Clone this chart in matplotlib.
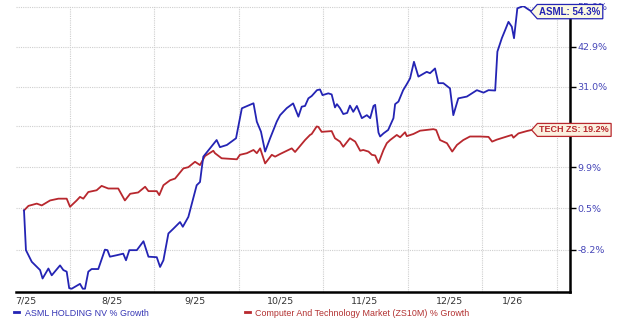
import numpy as np
import matplotlib
matplotlib.use("Agg")
import matplotlib.pyplot as plt
from matplotlib.path import Path

# ---------------- data (days since start, % growth) ----------------
asml_day = [0, 0.7, 2.8, 5.8, 6.7, 8.8, 10.0, 13.0, 14.2, 15.4, 16.3, 17.2, 20.2, 21.2, 22.0,
            23.2, 24.4, 26.8, 29.2, 30.1, 31.0, 33.5, 35.8, 36.8, 38.0, 40.7, 43.1, 44.9,
            47.9, 49.1, 50.3, 52.1, 53.9, 56.3, 57.3, 59.3, 62.3, 63.5, 64.1, 64.7, 67.1,
            69.5, 70.7, 73.2, 76.5, 78.6, 82.8, 84.0, 85.5, 87.0, 88.8, 90.0, 91.2, 92.4,
            94.8, 97.1, 99.0, 100.2, 101.4, 102.6, 103.8, 105.7, 106.8, 107.7, 109.8, 111.0,
            112.2, 112.9, 114.0, 115.2, 116.6, 117.6, 118.8, 120.1, 121.9, 123.7, 124.9,
            126.1, 126.7, 127.9, 128.5, 129.7, 131.4, 133.3, 133.9, 135.1, 136.8, 138.1,
            139.3, 140.7, 142.3, 145.3, 146.5, 148.3, 149.5, 151.3, 153.7, 154.9, 156.7,
            159.8, 163.4, 165.8, 167.6, 170.0, 170.8, 172.4, 173.6, 174.8, 176.0, 176.8,
            178.0, 180.2, 181.4, 183.2]
asml_pct = [0.0, -8.3, -10.6, -12.2, -13.8, -11.9, -13.2, -11.3, -12.2, -12.5, -15.6, -15.7,
            -14.8, -15.7, -15.7, -12.5, -12.0, -12.0, -8.2, -8.3, -9.6, -9.3, -9.0, -10.3,
            -8.3, -8.3, -6.5, -9.6, -9.7, -11.6, -10.3, -4.9, -3.9, -2.5, -3.5, -1.4, 5.65,
            6.4, 9.5, 12.45, 14.5, 16.6, 14.8, 15.35, 17.05, 24.96, 26.33, 21.36, 18.74,
            13.7, 17.05, 19.2, 21.4, 23.1, 25.0, 26.3, 22.7, 25.4, 25.6, 27.7, 28.35, 30.0,
            30.2, 28.6, 29.1, 28.8, 25.2, 26.1, 25.0, 23.4, 23.7, 25.7, 24.0, 25.6, 22.3,
            23.1, 22.3, 25.6, 25.9, 18.5, 17.5, 18.3, 19.2, 22.3, 26.1, 26.8, 30.0, 31.7,
            33.4, 38.3, 33.9, 35.3, 34.9, 36.3, 32.0, 32.0, 30.5, 23.1, 27.7, 28.2, 30.0,
            29.3, 30.0, 29.9, 41.4, 45.6, 48.2, 50.9, 49.3, 45.6, 55.4, 56.2, 55.4, 54.3]

tech_day = [0, 1.6, 4.6, 6.4, 9.4, 12.4, 15.4, 16.6, 19.0, 20.2, 21.4, 23.2, 26.2, 28.0, 30.4,
            34.0, 36.4, 38.3, 41.2, 43.7, 44.9, 47.9, 48.8, 50.3, 52.7, 54.5, 57.5, 59.3,
            61.7, 63.5, 65.3, 68.3, 68.9, 71.3, 76.8, 77.9, 80.4, 81.6, 82.8, 84.0, 85.2,
            87.0, 89.4, 90.6, 92.4, 96.6, 97.8, 101.4, 103.2, 103.8, 105.6, 106.2, 107.4,
            111.0, 112.2, 114.0, 115.2, 117.6, 119.5, 121.3, 122.4, 124.3, 125.5, 126.7,
            127.9, 129.7, 130.9, 132.1, 134.5, 135.7, 137.5, 138.1, 140.5, 142.9, 145.3,
            147.7, 148.7, 150.1, 152.6, 154.5, 156.2, 158.5, 160.9, 164.6, 167.6, 168.9,
            170.6, 174.2, 176.0, 176.6, 178.4, 181.4, 183.2]
tech_pct = [0.0, 1.0, 1.5, 1.1, 2.2, 2.6, 2.6, 0.8, 2.2, 3.0, 2.6, 4.1, 4.5, 5.5, 4.9, 4.9,
            2.2, 3.7, 4.0, 5.3, 4.3, 4.3, 3.4, 5.65, 6.8, 7.2, 9.6, 9.9, 11.2, 10.4, 12.6,
            13.9, 13.3, 12.05, 11.8, 12.9, 13.3, 13.7, 14.1, 13.3, 14.5, 10.8, 12.9, 12.45,
            13.1, 14.5, 13.6, 16.6, 17.9, 18.15, 20.1, 20.0, 18.7, 18.9, 17.05, 16.2, 14.9,
            17.05, 16.2, 13.9, 14.1, 13.7, 12.9, 12.75, 10.9, 14.1, 15.8, 16.6, 17.9, 17.3,
            18.6, 17.6, 18.15, 19.0, 19.2, 19.4, 19.2, 16.6, 15.8, 13.7, 15.35, 16.6, 17.5,
            17.5, 17.4, 16.2, 16.7, 17.5, 17.9, 17.2, 18.3, 18.9, 19.2]

x_label_days = [0.7, 31.8, 61.7, 92.4, 122.7, 153.7, 176.4]
x_labels = ["7/25", "8/25", "9/25", "10/25", "11/25", "12/25", "1/26"]
x_grid_days = [16.6, 46.9, 77.6, 107.9, 138.6, 165.3, 192.4]
y_tick_vals = [-8.2, 0.5, 9.9, 20.1, 31.0, 42.9, 55.9]
y_tick_labels = ["-8.2%", "0.5%", "9.9%", "20.1%", "31.0%", "42.9%", "55.9%"]

asml_name = "ASML HOLDING NV % Growth"
tech_name = "Computer And Technology Market (ZS10M) % Growth"
asml_tag = "ASML: 54.3%"
tech_tag = "TECH ZS: 19.2%"

BLUE = "#2424b4"
RED = "#b8282e"

# ---------------- figure ----------------
fig = plt.figure(figsize=(6.2, 3.24), dpi=100)
ax = fig.add_axes([16 / 620, 1 - 292 / 324, (570 - 16) / 620, (292 - 6) / 324])

fwd = lambda v: np.log1p(np.asarray(v, dtype=float) / 100.0)
inv = lambda y: np.expm1(np.asarray(y, dtype=float)) * 100.0
ax.set_yscale("function", functions=(fwd, inv))

l1, = ax.plot(asml_day, asml_pct, color=BLUE, lw=1.3, solid_joinstyle="round", zorder=4)
l2, = ax.plot(tech_day, tech_pct, color=RED, lw=1.3, solid_joinstyle="round", zorder=3)

ax.set_xlim(-2.89, 197.0)
ax.set_ylim(-16.3, 56.2)

# y axis on the right
ax.yaxis.tick_right()
ax.set_yticks(y_tick_vals)
ax.set_yticklabels(y_tick_labels)
ax.yaxis.set_minor_locator(matplotlib.ticker.NullLocator())
ax.tick_params(axis="y", which="major", length=4, width=1, color="black",
               labelsize=6.8, labelcolor="#4646b8", pad=1.5)

# x axis: grid at major, labels at minor
ax.set_xticks(x_grid_days)
ax.set_xticklabels([""] * len(x_grid_days))
ax.set_xticks(x_label_days, minor=True)
ax.set_xticklabels(x_labels, minor=True)
ax.tick_params(axis="x", which="both", length=0, labelsize=6.8, labelcolor="#333333", pad=3)

ax.grid(True, which="major", axis="both", color="#cfcfcf", lw=0.8, linestyle=(0, (1, 1)))
ax.set_axisbelow(True)

for s in ("top", "left"):
    ax.spines[s].set_visible(False)
for s in ("bottom", "right"):
    ax.spines[s].set_color("black")
    ax.spines[s].set_linewidth(1.8)


def tag_box(x0, y0, width, height, mutation_size):
    pad = mutation_size * 0.22
    x0 -= pad
    y0 -= pad
    w = width + 2 * pad
    h = height + 2 * pad
    tip = h * 0.45
    verts = [(x0, y0), (x0 + w, y0), (x0 + w, y0 + h), (x0, y0 + h),
             (x0 - tip, y0 + h / 2), (x0, y0)]
    return Path(verts, closed=True)


for txt, xd, yv, col, fc, fs in ((asml_tag, asml_day[-1], asml_pct[-1], BLUE, "#fbf9e2", 7.0),
                                  (tech_tag, tech_day[-1], tech_pct[-1], RED, "#fbf1e0", 6.5)):
    ax.annotate(txt, xy=(xd, yv), xytext=(5.5, 0), textcoords="offset points",
                ha="left", va="center", fontsize=fs, fontweight="bold", color=col,
                family=["Liberation Sans", "DejaVu Sans"],
                bbox=dict(boxstyle=tag_box, fc=fc, ec=col, lw=0.9),
                annotation_clip=False, clip_on=False, zorder=10)

leg = fig.legend([l1, l2], [asml_name, tech_name], loc="center left",
                 bbox_to_anchor=(14 / 620, 1 - 313 / 324), ncol=2, frameon=False,
                 prop={"family": ["Liberation Sans", "DejaVu Sans"], "size": 6.4},
                 handlelength=0.6, handletextpad=0.6, columnspacing=10.8,
                 borderpad=0, borderaxespad=0)
for t, c in zip(leg.get_texts(), ("#3434b4", "#b23030")):
    t.set_color(c)
for h in leg.legend_handles:
    h.set_linewidth(2)

fig.savefig("out.png", dpi=100)
